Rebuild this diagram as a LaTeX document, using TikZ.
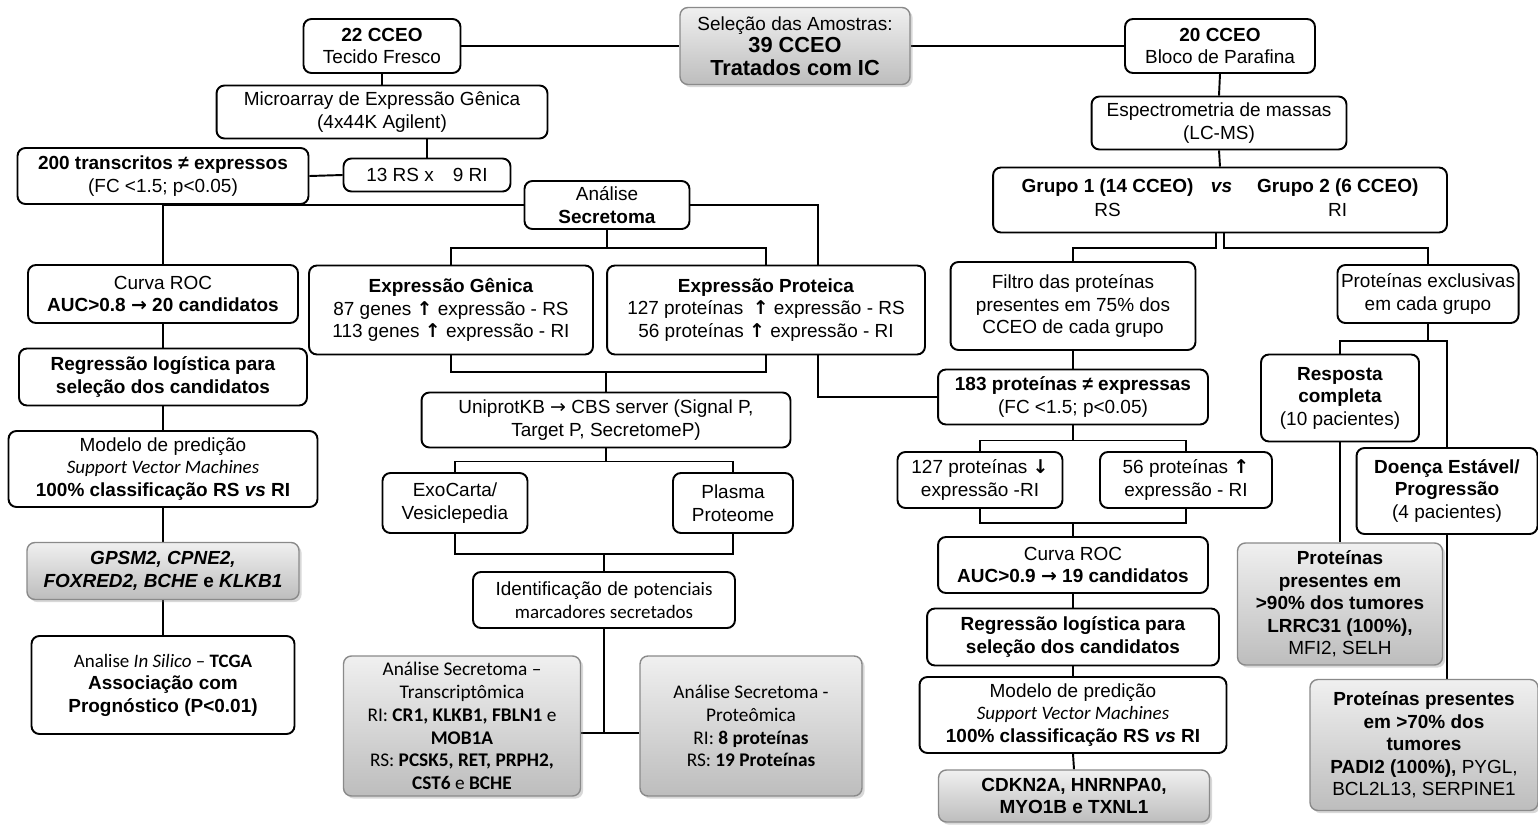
\documentclass[tikz,border=0pt]{standalone}
\usepackage{fontspec}
\setmainfont{Liberation Sans}
\newfontfamily\carlito{Carlito}
\newfontfamily\dejavu{DejaVu Sans}
\usepackage{tikz}
\usetikzlibrary{backgrounds,shadows}
\definecolor{boxgray}{HTML}{BDBDBD}
\definecolor{edgegray}{HTML}{8A8A8A}
\newcommand{\uparr}{{\dejavu\bfseries ↑}}
\newcommand{\downarr}{{\dejavu\bfseries ↓}}
\newcommand{\rarr}{{\dejavu →}}
\newcommand{\bigbold}[1]{{\fontsize{12.4}{14.6}\selectfont\bfseries #1}}

\begin{document}
\begin{tikzpicture}[x=0.02cm,y=-0.02cm,
  stepbox/.style={rectangle,rounded corners=4.5pt,draw=black,line width=1.1pt,fill=white,align=center,inner sep=2pt,font=\fontsize{10.8}{12.8}\selectfont},
  resultbox/.style={stepbox,draw=edgegray,line width=0.8pt,top color=white!94!black,bottom color=boxgray,drop shadow={opacity=0.3,shadow xshift=1.5pt,shadow yshift=-1.5pt}},
  calibtext/.style={font=\carlito\fontsize{11}{13}\selectfont},
  link/.style={line width=1.1pt,draw=black}]
  \useasboundingbox (0,0) rectangle (1538,825);

  \node[stepbox,minimum width=3.14cm,minimum height=1.08cm] (c22) at (382,46) {\textbf{22 CCEO}\\Tecido Fresco};
  \node[resultbox,minimum width=4.6cm,minimum height=1.54cm] (sel) at (795,46) {Seleção das Amostras:\\\bigbold{39 CCEO}\\\bigbold{Tratados com IC}};
  \node[stepbox,minimum width=3.8cm,minimum height=1.08cm] (c20) at (1220,46) {\textbf{20 CCEO}\\Bloco de Parafina};

  \node[stepbox,minimum width=6.62cm,minimum height=1.06cm] (micro) at (382,112) {Microarray de Expressão Gênica\\(4x44K Agilent)};
  \node[stepbox,minimum width=5.1cm,minimum height=1.06cm] (esp) at (1219,123) {Espectrometria de massas\\(LC-MS)};
  \node[stepbox,minimum width=5.82cm,minimum height=1.12cm] (trans) at (163,176) {\textbf{200 transcritos ≠ expressos}\\(FC <1.5; p<0.05)};
  \node[stepbox,minimum width=3.34cm,minimum height=0.66cm] (rs13) at (427,175) {13 RS x\quad 9 RI};
  \node[stepbox,minimum width=3.3cm,minimum height=0.96cm] (sec) at (607,205) {Análise\\\textbf{Secretoma}};
  \node[stepbox,minimum width=9.08cm,minimum height=1.3cm] (grp) at (1220,200) {\begin{tabular}{@{}c@{\hspace{0.35cm}}c@{\hspace{0.5cm}}c@{}}\textbf{Grupo 1 (14 CCEO)} & \textbf{\textit{vs}} & \textbf{Grupo 2 (6 CCEO)}\\[1pt] RS & & RI\end{tabular}};

  \node[stepbox,minimum width=5.4cm,minimum height=1.16cm] (roc1) at (163,294) {Curva ROC\\\textbf{AUC>0.8 \rarr{} 20 candidatos}};
  \node[stepbox,minimum width=5.68cm,minimum height=1.78cm] (gen) at (451,310) {\textbf{Expressão Gênica}\\87 genes \uparr{} expressão - RS\\113 genes \uparr{} expressão - RI};
  \node[stepbox,minimum width=6.36cm,minimum height=1.78cm] (prot) at (766,310) {\textbf{Expressão Proteica}\\127 proteínas\enspace\uparr{} expressão - RS\\56 proteínas \uparr{} expressão - RI};
  \node[stepbox,minimum width=4.9cm,minimum height=1.76cm] (filt) at (1073,306) {Filtro das proteínas\\presentes em 75\% dos\\CCEO de cada grupo};
  \node[stepbox,minimum width=3.46cm,minimum height=1.16cm] (excl) at (1428,294) {Proteínas exclusivas\\em cada grupo};

  \node[stepbox,minimum width=5.76cm,minimum height=1.14cm] (reg1) at (163,377) {\textbf{Regressão logística para}\\\textbf{seleção dos candidatos}};
  \node[stepbox,minimum width=7.38cm,minimum height=1.1cm] (uni) at (606,420) {UniprotKB \rarr{} CBS server (Signal P,\\Target P, SecretomeP)};
  \node[stepbox,minimum width=5.4cm,minimum height=1.1cm] (p183) at (1073,397) {\textbf{183 proteínas ≠ expressas}\\(FC <1.5; p<0.05)};
  \node[stepbox,minimum width=3.16cm,minimum height=1.74cm] (resp) at (1340,398) {\textbf{Resposta}\\\textbf{completa}\\(10 pacientes)};

  \node[stepbox,minimum width=6.18cm,minimum height=1.52cm] (mod1) at (163,469) {Modelo de predição\\{\carlito\itshape Support Vector Machines}\\\textbf{100\% classificação RS \textit{vs} RI}};
  \node[stepbox,minimum width=2.9cm,minimum height=1.2cm] (exo) at (455,503) {ExoCarta/\\Vesiclepedia};
  \node[stepbox,minimum width=2.4cm,minimum height=1.2cm] (plas) at (733,503) {Plasma\\Proteome};
  \node[stepbox,minimum width=3.3cm,minimum height=1.12cm] (down127) at (980,480) {127 proteínas \downarr\\expressão -RI};
  \node[stepbox,minimum width=3.44cm,minimum height=1.12cm] (up56) at (1186,480) {56 proteínas \uparr\\expressão - RI};
  \node[stepbox,minimum width=3.62cm,minimum height=1.72cm] (doen) at (1447,491) {\textbf{Doença Estável/}\\\textbf{Progressão}\\(4 pacientes)};

  \node[stepbox,minimum width=5.4cm,minimum height=1.12cm] (roc2) at (1073,565) {Curva ROC\\\textbf{AUC>0.9 \rarr{} 19 candidatos}};
  \node[resultbox,minimum width=5.44cm,minimum height=1.14cm] (gps) at (163,571) {\textbf{\textit{GPSM2, CPNE2,}}\\\textbf{\textit{FOXRED2, BCHE} e \textit{KLKB1}}};
  \node[stepbox,minimum width=5.24cm,minimum height=1.12cm] (ident) at (604,600) {Identificação de {\carlito potenciais}\\{\carlito marcadores secretados}};
  \node[resultbox,minimum width=4.1cm,minimum height=2.44cm] (p90) at (1340,604) {\textbf{Proteínas}\\\textbf{presentes em}\\\textbf{>90\% dos tumores}\\\textbf{LRRC31 (100\%),}\\MFI2, SELH};
  \node[stepbox,minimum width=5.84cm,minimum height=1.14cm] (reg2) at (1073,637) {\textbf{Regressão logística para}\\\textbf{seleção dos candidatos}};

  \node[stepbox,minimum width=5.26cm,minimum height=1.96cm] (silico) at (163,685) {{\carlito Analise \textit{In Silico} – \textbf{TCGA}}\\\textbf{Associação com}\\\textbf{Prognóstico (P<0.01)}};
  \node[stepbox,minimum width=6.14cm,minimum height=1.52cm] (mod2) at (1073,715) {Modelo de predição\\{\carlito\itshape Support Vector Machines}\\\textbf{100\% classificação RS \textit{vs} RI}};
  \node[resultbox,calibtext,minimum width=4.74cm,minimum height=2.8cm] (transc) at (462,726) {Análise Secretoma –\\Transcriptômica\\RI: \textbf{CR1, KLKB1, FBLN1} e\\\textbf{MOB1A}\\RS: \textbf{PCSK5, RET, PRPH2,}\\\textbf{CST6} e \textbf{BCHE}};
  \node[resultbox,calibtext,minimum width=4.44cm,minimum height=2.8cm] (proteo) at (751,726) {Análise Secretoma -\\Proteômica\\RI: \textbf{8 proteínas}\\RS: \textbf{19 Proteínas}};
  \node[resultbox,minimum width=4.56cm,minimum height=2.62cm] (p70) at (1424,745) {\textbf{Proteínas presentes}\\\textbf{em >70\% dos}\\\textbf{tumores}\\\textbf{PADI2 (100\%),} PYGL,\\BCL2L13, SERPINE1};
  \node[resultbox,minimum width=5.42cm,minimum height=1.04cm] (cdkn) at (1074,796) {\textbf{CDKN2A, HNRNPA0,}\\\textbf{MYO1B e TXNL1}};

  \coordinate (bend) at (818,300);

  \begin{scope}[on background layer]
    \fill[white] (0,0) rectangle (1538,825);
    \draw[link] (c22.east) -- (sel.west);
    \draw[link] (sel.east) -- (c20.west);
    \draw[link] (c22.south) -- (micro.north);
    \draw[link] (rs13.north) -- (rs13.north |- micro.south);
    \draw[link] (trans.east) -- (rs13.west);
    \draw[link] (trans.south) -- (roc1.north);
    \draw[link] (sec.west) -| (trans.south);
    \draw[link] (roc1.south) -- (reg1.north);
    \draw[link] (reg1.south) -- (mod1.north);
    \draw[link] (mod1.south) -- (gps.north);
    \draw[link] (gps.south) -- (silico.north);
    \draw[link] (sec.south) -- ++(0,18) -| (gen.north);
    \draw[link] (sec.south) -- ++(0,18) -| (prot.north);
    \draw[link] (gen.south) -- ++(0,17) -| (uni.north);
    \draw[link] (prot.south) -- ++(0,17) -| (uni.north);
    \draw[link] (uni.south) -- ++(0,13) -| (exo.north);
    \draw[link] (uni.south) -- ++(0,13) -| (plas.north);
    \draw[link] (exo.south) -- ++(0,20) -| (ident.north);
    \draw[link] (plas.south) -- ++(0,20) -| (ident.north);
    \draw[link] (ident.south) |- ([yshift=-4pt]transc.east);
    \draw[link] (ident.south) |- ([yshift=-4pt]proteo.west);
    \draw[link] (sec.east) -| (bend) |- (p183.west);
    \draw[link] (c20.south) -- (esp.north);
    \draw[link] (esp.south) -- (grp.north);
    \draw[link] ([xshift=-2.5pt]grp.south) -- ++(0,15) -| (filt.north);
    \draw[link] ([xshift=2.5pt]grp.south) -- ++(0,15) -| (excl.north);
    \draw[link] (filt.south) -- (p183.north);
    \draw[link] (p183.south) -- ++(0,15) -| (down127.north);
    \draw[link] (p183.south) -- ++(0,15) -| (up56.north);
    \draw[link] (down127.south) -- ++(0,14) -| (roc2.north);
    \draw[link] (up56.south) -- ++(0,14) -| (roc2.north);
    \draw[link] (roc2.south) -- (reg2.north);
    \draw[link] (reg2.south) -- (mod2.north);
    \draw[link] (mod2.south) -- (cdkn.north);
    \draw[link] (excl.south) -- ++(0,17) -| (resp.north);
    \draw[link] (excl.south) -- ++(0,17) -| (doen.north);
    \draw[link] (resp.south) -- (p90.north);
    \draw[link] (doen.south) -- (doen.south |- p70.north);
  \end{scope}
\end{tikzpicture}
\end{document}
